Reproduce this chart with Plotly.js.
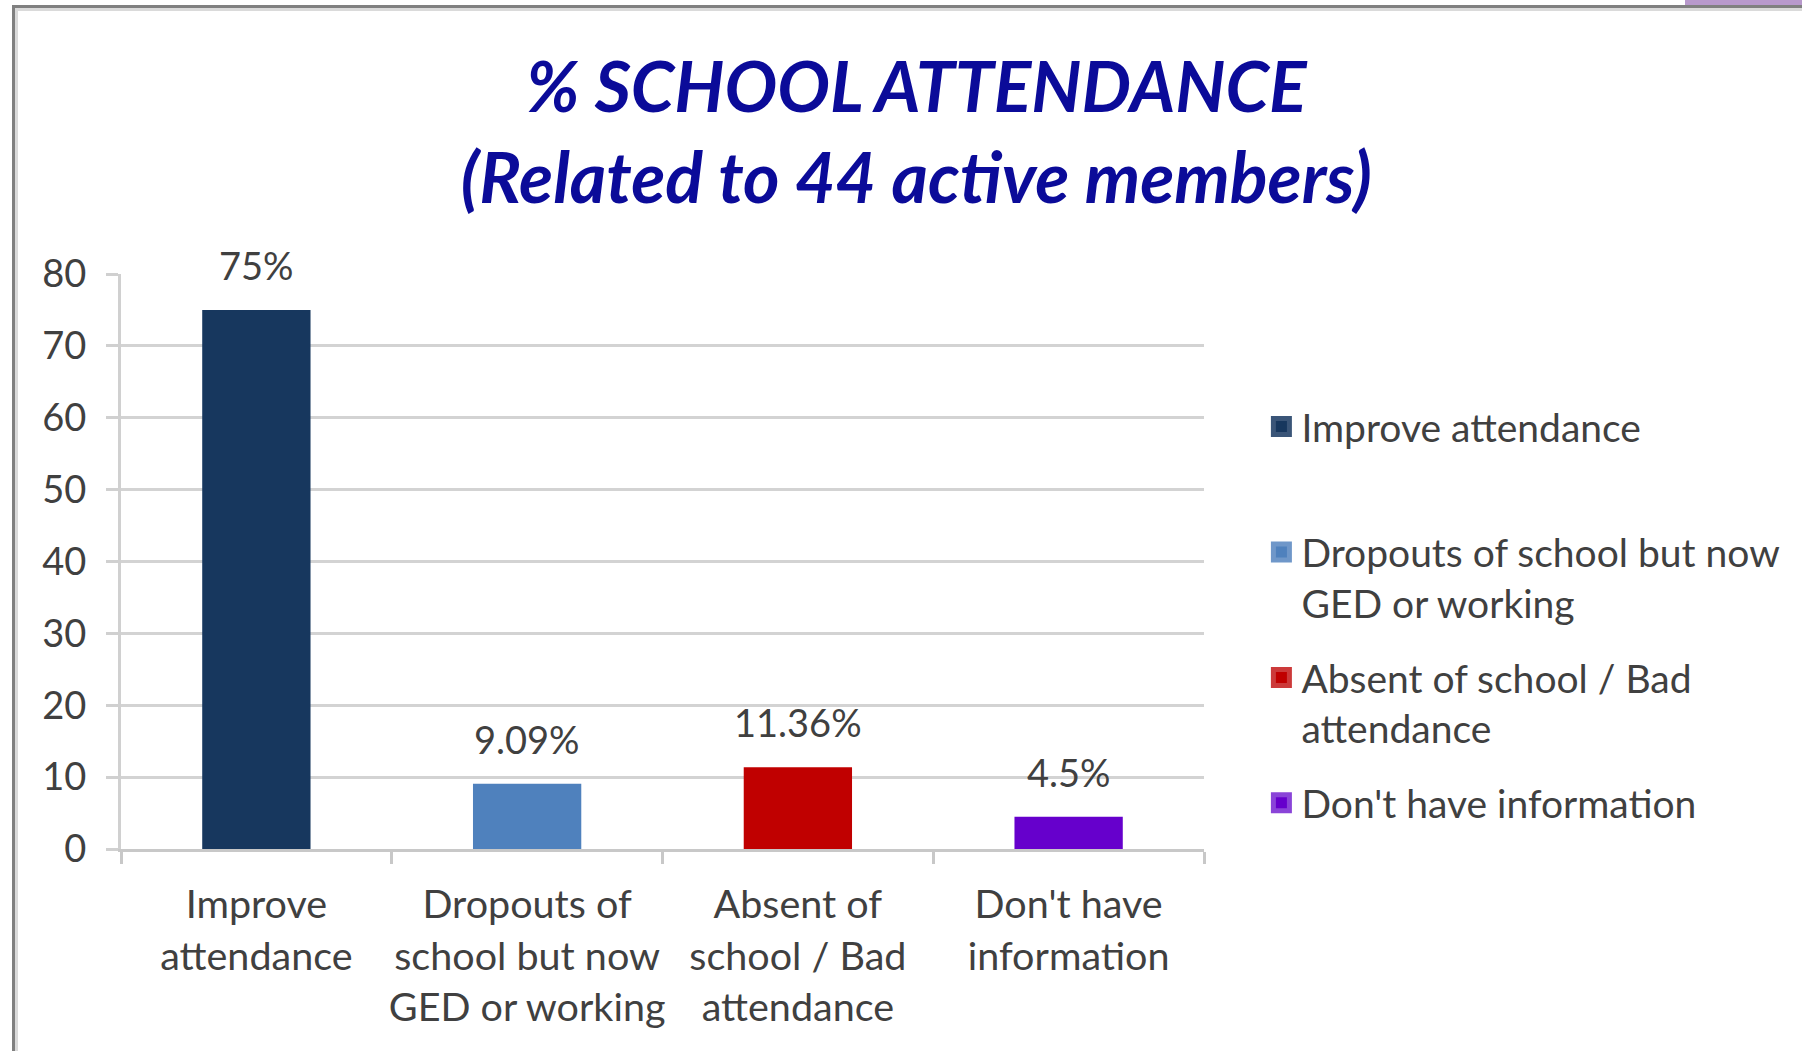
<!DOCTYPE html>
<html><head><meta charset="utf-8">
<script src="https://cdn.plot.ly/plotly-3.0.1.min.js"></script>
<style>
html,body{margin:0;padding:0;background:#fff;}
#wrap{position:relative;width:1802px;height:1051px;overflow:hidden;}
#chart{position:absolute;left:0;top:0;width:1802px;height:1051px;}
.fr{position:absolute;pointer-events:none;}
</style></head><body>
<div id="wrap">
<div id="chart"></div>
<div class="fr" style="left:12px;top:5px;width:1790px;height:3px;background:#808080"></div>
<div class="fr" style="left:15px;top:8px;width:1787px;height:3px;background:#dadada"></div>
<div class="fr" style="left:12px;top:5px;width:3px;height:1046px;background:#808080"></div>
<div class="fr" style="left:15px;top:8px;width:3px;height:1043px;background:#dadada"></div>
<div class="fr" style="left:1685px;top:0;width:117px;height:5px;background:#b899cc"></div>
</div>
<script>
const categories = ["Improve<br>attendance", "Dropouts of<br>school but now<br>GED or working", "Absent of<br>school / Bad<br>attendance", "Don't have<br>information"];
const seriesNames = ["Improve attendance", "Dropouts of school but now<br>GED or working", "Absent of school / Bad<br>attendance", "Don't have information"];
const values = [75, 9.09, 11.36, 4.5];
const valueLabels = ["75%", "9.09%", "11.36%", "4.5%"];
const colors = ["#17375e", "#4f81bd", "#c00000", "#6600cc"];
const legendBorders = ["#3a5578", "#6f97c9", "#cc3a3a", "#8a44d8"];
const yTicks = [0, 10, 20, 30, 40, 50, 60, 70, 80];

const FONT = 'Lato, "Open Sans", sans-serif';
const traces = [];
categories.forEach((c, i) => {
  traces.push({
    type: 'bar', x: [c], y: [values[i]], name: seriesNames[i],
    marker: {color: colors[i], line: {width: 0}}, width: 0.4,
    showlegend: false, hoverinfo: 'skip', legendgroup: 'g' + i
  });
});
categories.forEach((c, i) => {
  traces.push({
    type: 'scatter', mode: 'markers', x: [c], y: [null],
    name: i === 0 ? seriesNames[i] + '<br> ' : seriesNames[i],
    marker: {symbol: 'square', size: 20, color: colors[i], line: {color: legendBorders[i], width: 5}},
    showlegend: true, legendgroup: 'g' + i, hoverinfo: 'skip'
  });
});

const annotations = values.map((v, i) => ({
  x: categories[i], y: v, xref: 'x', yref: 'y', text: valueLabels[i],
  showarrow: false, yanchor: 'bottom', yshift: 20,
  font: {family: FONT, size: 38, color: '#404040'}
}));

const layout = {
  width: 1802, height: 1051,
  margin: {l: 121, r: 598, t: 274, b: 202, pad: 0},
  paper_bgcolor: '#ffffff', plot_bgcolor: '#ffffff',
  font: {family: FONT, size: 38, color: '#404040'},
  title: {
    text: '% SCHOOL ATTENDANCE<br>(Related to 44 active members)',
    x: 0.5085, xref: 'container', xanchor: 'center',
    y: 1 - 112 / 1051, yref: 'container', yanchor: 'middle',
    font: {family: FONT, size: 70, color: '#0b0b99', weight: 'bold', style: 'italic'}
  },
  xaxis: {
    type: 'category', showline: true, linecolor: '#c8c8c8', linewidth: 3,
    ticks: 'outside', tickson: 'boundaries', ticklen: 12, tickwidth: 3, tickcolor: '#c8c8c8',
    showgrid: false, ticklabelstandoff: 19, tickangle: 0, fixedrange: true,
    tickfont: {family: FONT, size: 39.5, color: '#404040'}
  },
  yaxis: {
    range: [0, 80], tickvals: yTicks, showline: true, linecolor: '#d0d0d0', linewidth: 3,
    ticks: 'outside', ticklen: 12, tickwidth: 3, tickcolor: '#d0d0d0',
    showgrid: true, gridcolor: '#d3d3d3', gridwidth: 3, zeroline: false,
    ticklabelstandoff: 12, fixedrange: true,
    tickfont: {family: FONT, size: 38, color: '#404040'}
  },
  barmode: 'overlay',
  showlegend: true,
  legend: {
    x: 1.053, xanchor: 'left', y: 0.79, yanchor: 'top', valign: 'top',
    tracegroupgap: 21, bgcolor: 'rgba(0,0,0,0)',
    font: {family: FONT, size: 39, color: '#404040'}
  },
  annotations: annotations
};

Plotly.newPlot('chart', traces, layout, {displayModeBar: false, staticPlot: true});
</script>
</body></html>
